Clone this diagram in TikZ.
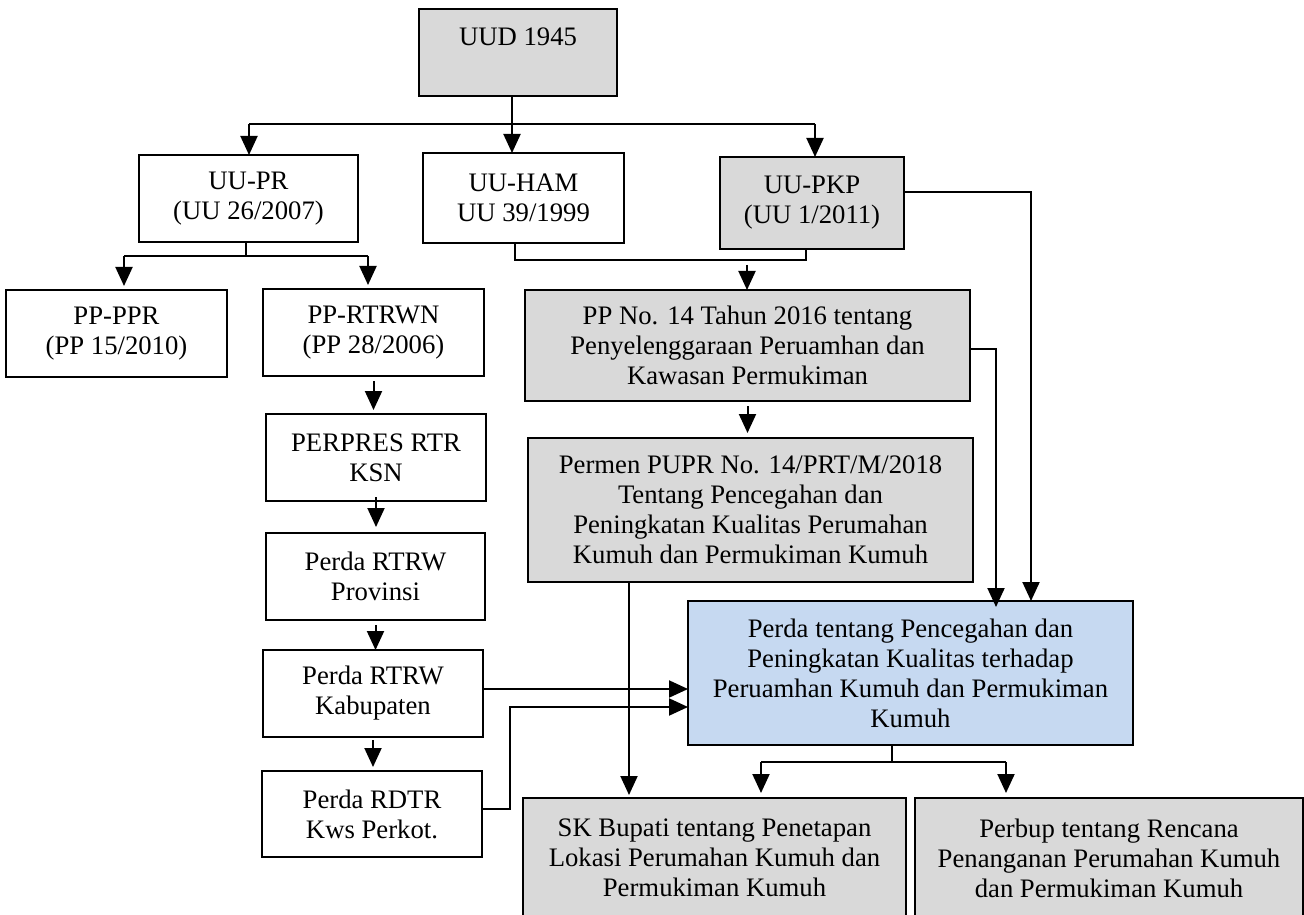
\documentclass[tikz,border=0pt]{standalone}
\usepackage{fontspec}
\setmainfont{Liberation Serif}
\usetikzlibrary{arrows.meta}
\definecolor{boxgray}{HTML}{D9D9D9}
\definecolor{boxblue}{HTML}{C6D9F1}
% box from corner (x1,y1) to (x2,y2): name, x1, y1, x2, y2, style, text
\newcommand\lawbox[7]{%
  \node[#6, minimum width={(#4-#2)*0.5pt}, minimum height={(#5-#3)*0.5pt}]
    (#1) at ({(#2+#4)/2},{(#3+#5)/2}) {#7};}
\begin{document}
\begin{tikzpicture}[x=0.5pt, y=-0.5pt,
  base/.style={draw=black, line width=1.1pt, inner sep=0pt, outer sep=0pt,
    align=center, font=\fontsize{13.35pt}{15pt}\selectfont},
  plain/.style={base, fill=white},
  grey/.style={base, fill=boxgray},
  blue/.style={base, fill=boxblue},
  ln/.style={line width=1pt},
  arr/.style={line width=1pt, -{Triangle[length=9.5pt, width=8.5pt]}}]
\useasboundingbox (0,0) rectangle (1304,914);
\clip (0,0) rectangle (1304,914);

% boxes
\lawbox{uud}{419}{9}{617}{96}{grey, text height=9pt, text depth=15.7pt}{UUD 1945}
\lawbox{uupr}{139}{155}{358}{242}{plain}{UU-PR\\(UU 26/2007)}
\lawbox{uuham}{423}{153}{624}{243}{plain}{UU-HAM\\UU 39/1999}
\lawbox{uupkp}{720}{157}{904}{249}{grey}{UU-PKP\\(UU 1/2011)}
\lawbox{pppr}{6}{290}{227}{377}{plain}{PP-PPR\\(PP 15/2010)}
\lawbox{pprtrwn}{263}{289}{484}{376}{plain}{PP-RTRWN\\(PP 28/2006)}
\lawbox{perpres}{266}{414}{486}{501}{plain}{PERPRES RTR\\KSN}
\lawbox{prov}{266}{533}{485}{620}{plain}{Perda RTRW\\Provinsi}
\lawbox{kab}{263}{650}{483}{737}{plain}{Perda RTRW\\Kabupaten}
\lawbox{rdtr}{262}{771}{482}{857}{plain}{Perda RDTR\\Kws Perkot.}
\lawbox{pp14}{525}{290}{970}{401}{grey}{PP No. 14 Tahun 2016 tentang\\Penyelenggaraan Peruamhan dan\\Kawasan Permukiman}
\lawbox{permen}{528}{438}{973}{582}{grey}{Permen PUPR No. 14/PRT/M/2018\\Tentang Pencegahan dan\\Peningkatan Kualitas Perumahan\\Kumuh dan Permukiman Kumuh}
\lawbox{perda}{688}{601}{1133}{745}{blue}{Perda tentang Pencegahan dan\\Peningkatan Kualitas terhadap\\Peruamhan Kumuh dan Permukiman\\Kumuh}
\lawbox{sk}{523}{798}{906}{918}{grey}{SK Bupati tentang Penetapan\\Lokasi Perumahan Kumuh dan\\Permukiman Kumuh}
\lawbox{perbup}{915}{798}{1303}{918}{grey}{Perbup tentang Rencana\\Penanganan Perumahan Kumuh\\dan Permukiman Kumuh}

% UUD 1945 to the three laws
\coordinate (j1) at (512,124);
\coordinate (j1l) at (249,124);
\coordinate (j1r) at (815,124);
\draw[arr] (j1 |- uud.south) -- (j1 |- uuham.north);
\draw[ln] (j1l) -- (j1r);
\draw[arr] (j1l) -- (j1l |- uupr.north);
\draw[arr] (j1r) -- (j1r |- uupkp.north);

% UU-PR to its two regulations
\coordinate (j2) at (246,256);
\coordinate (j2l) at (124,256);
\coordinate (j2r) at (368,256);
\draw[ln] (j2 |- uupr.south) -- (j2);
\draw[ln] (j2l) -- (j2r);
\draw[arr, shorten >=2pt] (j2l) -- (j2l |- pppr.north);
\draw[arr, shorten >=2pt] (j2r) -- (j2r |- pprtrwn.north);

% spatial planning chain
\draw[arr, shorten <=2.5pt, shorten >=2pt] (pprtrwn.south) -- (pprtrwn.south |- perpres.north);
\draw[arr, shorten <=-2pt, shorten >=3pt] (perpres.south) -- (perpres.south |- prov.north);
\draw[arr, shorten <=2.5pt, shorten >=0pt] (prov.south) -- (prov.south |- kab.north);
\draw[arr, shorten <=1.5pt, shorten >=2pt] (kab.south) -- (kab.south |- rdtr.north);

% UU-HAM and UU-PKP to PP 14/2016
\coordinate (h1) at (514.5,260);
\coordinate (h2) at (806,260);
\coordinate (j3) at (747,265);
\draw[ln] (h1 |- uuham.south) -- (h1) -- (h2) -- (h2 |- uupkp.south);
\draw[arr] (j3) -- (j3 |- pp14.north);

% into the regional regulation
\coordinate (c1) at (1031,192);
\draw[arr] (c1 -| uupkp.east) -- (c1) -- (c1 |- perda.north);
\coordinate (c2) at (996,349);
\draw[arr, shorten >=-3pt] (c2 -| pp14.east) -- (c2) -- (c2 |- perda.north);
\draw[arr, shorten <=2.5pt, shorten >=2.5pt] (pp14.south) -- (pp14.south |- permen.north);
\coordinate (c3) at (629,582);
\draw[arr, shorten >=1.5pt] (c3 |- permen.south) -- (c3 |- sk.north);
\coordinate (c4) at (0,689);
\draw[arr] (c4 -| kab.east) -- (c4 -| perda.west);
\coordinate (c5) at (510,809);
\coordinate (c6) at (510,707);
\draw[arr] (c5 -| rdtr.east) -- (c5) -- (c6) -- (c6 -| perda.west);

% regional regulation to its two implementing decrees
\coordinate (c7) at (891.5,762);
\coordinate (c8) at (761,762);
\coordinate (c9) at (1006,762);
\draw[ln] (c7 |- perda.south) -- (c7);
\draw[ln] (c8) -- (c9);
\draw[arr, shorten >=2.5pt] (c8) -- (c8 |- sk.north);
\draw[arr, shorten >=2.5pt] (c9) -- (c9 |- perbup.north);
\end{tikzpicture}
\end{document}
